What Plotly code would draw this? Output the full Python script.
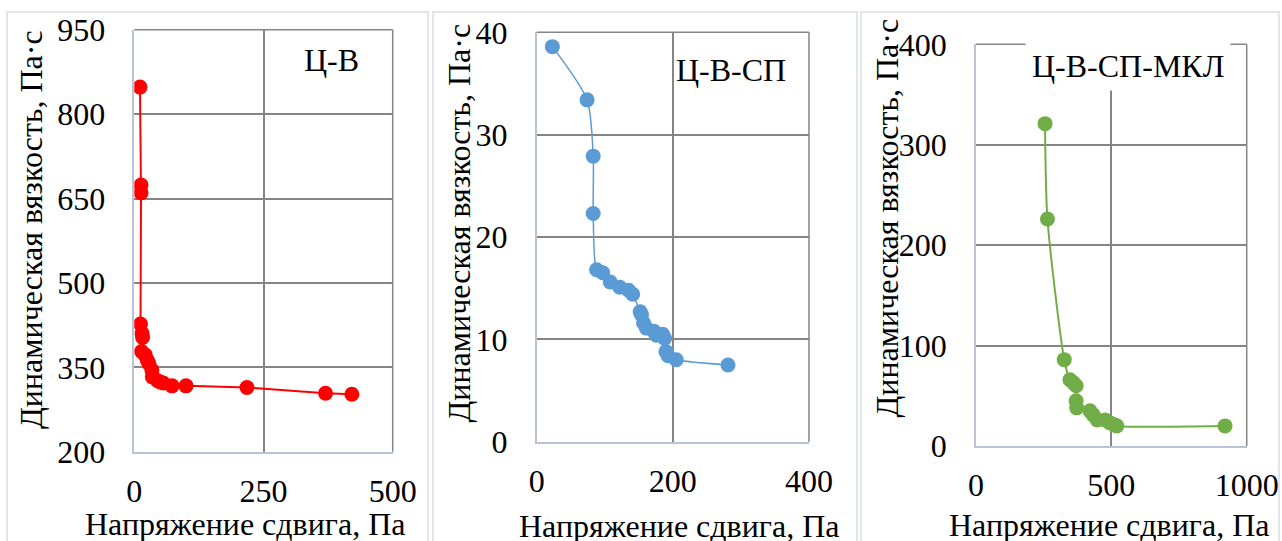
import plotly.graph_objects as go

W, H = 1282, 541

# ---- data ----
stress_cv = [11, 13, 13, 12, 15, 16, 14, 21, 25, 28, 34, 35, 45, 50, 56, 73, 100, 218, 370, 421]
visc_cv = [848, 674, 660, 427, 410, 403, 378, 372, 363, 357, 345, 333, 326, 324, 322, 317, 317, 314, 304, 302]

stress_cvsp = [23, 74, 83, 83, 88, 97, 108, 122, 135, 141, 152, 154, 157, 161, 172, 176, 185, 188, 190, 193, 205, 281]
visc_cvsp = [38.6, 33.4, 27.9, 22.3, 16.8, 16.5, 15.6, 15.1, 14.8, 14.4, 12.7, 12.4, 11.6, 11.1, 10.8, 10.4, 10.5, 10.1, 8.8, 8.4, 8.0, 7.5]

stress_mkl = [255, 264, 326, 347, 360, 370, 370, 372, 421, 433, 448, 477, 495, 514, 520, 920]
visc_mkl = [321, 226, 86, 66, 63, 60, 45, 38, 35, 31, 26, 26, 23, 21, 20, 20]

labels = ["Ц-В", "Ц-В-СП", "Ц-В-СП-МКЛ"]
x_title = "Напряжение сдвига, Па"
y_title = "Динамическая вязкость, Па·с"

FONT = "Liberation Serif"
FS = 32
GRID = "#858585"
AXL = "#b8c4d6"

def px(x):
    return x / W

def py(y):
    return 1 - y / H

# plot areas in pixels: (left, right, top, bottom)
areas = [
    (134.3, 392.7, 29.7, 451.7),
    (536.7, 809.0, 32.3, 441.7),
    (976.0, 1246.7, 44.3, 446.0),
]
ranges = [
    ([0, 500], 250, [200, 950], 150),
    ([0, 400], 200, [0, 40], 10),
    ([0, 1000], 500, [0, 400], 100),
]
series = [
    (stress_cv, visc_cv, "#FF0000", "linear", 15, 2),
    (stress_cvsp, visc_cvsp, "#5B9BD5", "spline", 15, 1.5),
    (stress_mkl, visc_mkl, "#70AD47", "spline", 15, 2),
]

fig = go.Figure()
layout = dict(
    width=W, height=H, margin=dict(l=0, r=0, t=0, b=0, pad=0), autosize=False,
    paper_bgcolor="white", plot_bgcolor="white", showlegend=False,
    font=dict(family=FONT, size=FS, color="black"),
)
shapes = []
annotations = []

borders = [(7, 428), (433, 857), (861, 1279)]
for (bl, br) in borders:
    shapes.append(dict(type="rect", xref="paper", yref="paper",
                       x0=px(bl), x1=px(br), y0=py(560), y1=py(12),
                       line=dict(color="#d9dde3", width=1.5), layer="below"))

for i in range(3):
    l, r, t, b = areas[i]
    xr, xd, yr, yd = ranges[i]
    sfx = "" if i == 0 else str(i + 1)
    xa = "xaxis" + sfx
    ya = "yaxis" + sfx
    xs, ys, col, shape, msize, lw = series[i]
    fig.add_trace(go.Scatter(
        x=xs, y=ys, mode="lines+markers", xaxis="x" + sfx, yaxis="y" + sfx,
        line=dict(color=col, width=lw, shape=shape, smoothing=0.7),
        marker=dict(color=col, size=msize),
    ))
    layout[xa] = dict(domain=[px(l), px(r)], range=xr, dtick=xd, tick0=0,
                      anchor="y" + sfx, showgrid=True, gridcolor=GRID, gridwidth=1.5,
                      showline=True, linecolor=AXL, linewidth=1.5, zeroline=False,
                      ticks="", ticklabelstandoff=10, automargin=False,
                      tickfont=dict(family=FONT, size=FS, color="black"))
    layout[ya] = dict(domain=[py(b), py(t)], range=yr, dtick=yd, tick0=yr[0],
                      anchor="x" + sfx, showgrid=True, gridcolor=GRID, gridwidth=1.5,
                      showline=True, linecolor=AXL, linewidth=1.5, zeroline=False,
                      ticks="", ticklabelstandoff=21, automargin=False,
                      tickfont=dict(family=FONT, size=FS, color="black"))
    shapes.append(dict(type="line", xref="x" + sfx + " domain", yref="y" + sfx + " domain",
                       x0=0, x1=1, y0=1, y1=1, line=dict(color=GRID, width=1.5)))
    shapes.append(dict(type="line", xref="x" + sfx + " domain", yref="y" + sfx + " domain",
                       x0=1, x1=1, y0=0, y1=1, line=dict(color=GRID, width=1.5)))

# axis titles (pixel centres)
xt_pos = [(245, 524), (679, 526), (1109, 525)]
yt_pos = [(31, 230), (458, 223.5), (886, 218.5)]
for i in range(3):
    annotations.append(dict(text=x_title, xref="paper", yref="paper",
                            x=px(xt_pos[i][0]), y=py(xt_pos[i][1]), showarrow=False,
                            xanchor="center", yanchor="middle",
                            font=dict(family=FONT, size=FS, color="black")))
    annotations.append(dict(text=y_title, xref="paper", yref="paper",
                            x=px(yt_pos[i][0]), y=py(yt_pos[i][1]), showarrow=False,
                            textangle=-90, xanchor="center", yanchor="middle",
                            font=dict(family=FONT, size=FS, color="black")))

lab_pos = [(331, 60, None), (731, 70, None), (1128, 66, "white")]
for (lx, ly, bg), txt in zip(lab_pos, labels):
    a = dict(text=txt, xref="paper", yref="paper", x=px(lx), y=py(ly),
             showarrow=False, xanchor="center", yanchor="middle",
             font=dict(family=FONT, size=FS, color="black"))
    if bg:
        a["bgcolor"] = bg
        a["borderpad"] = 6
    annotations.append(a)

layout["shapes"] = shapes
layout["annotations"] = annotations
fig.update_layout(**layout)
fig.write_html("out.html")
